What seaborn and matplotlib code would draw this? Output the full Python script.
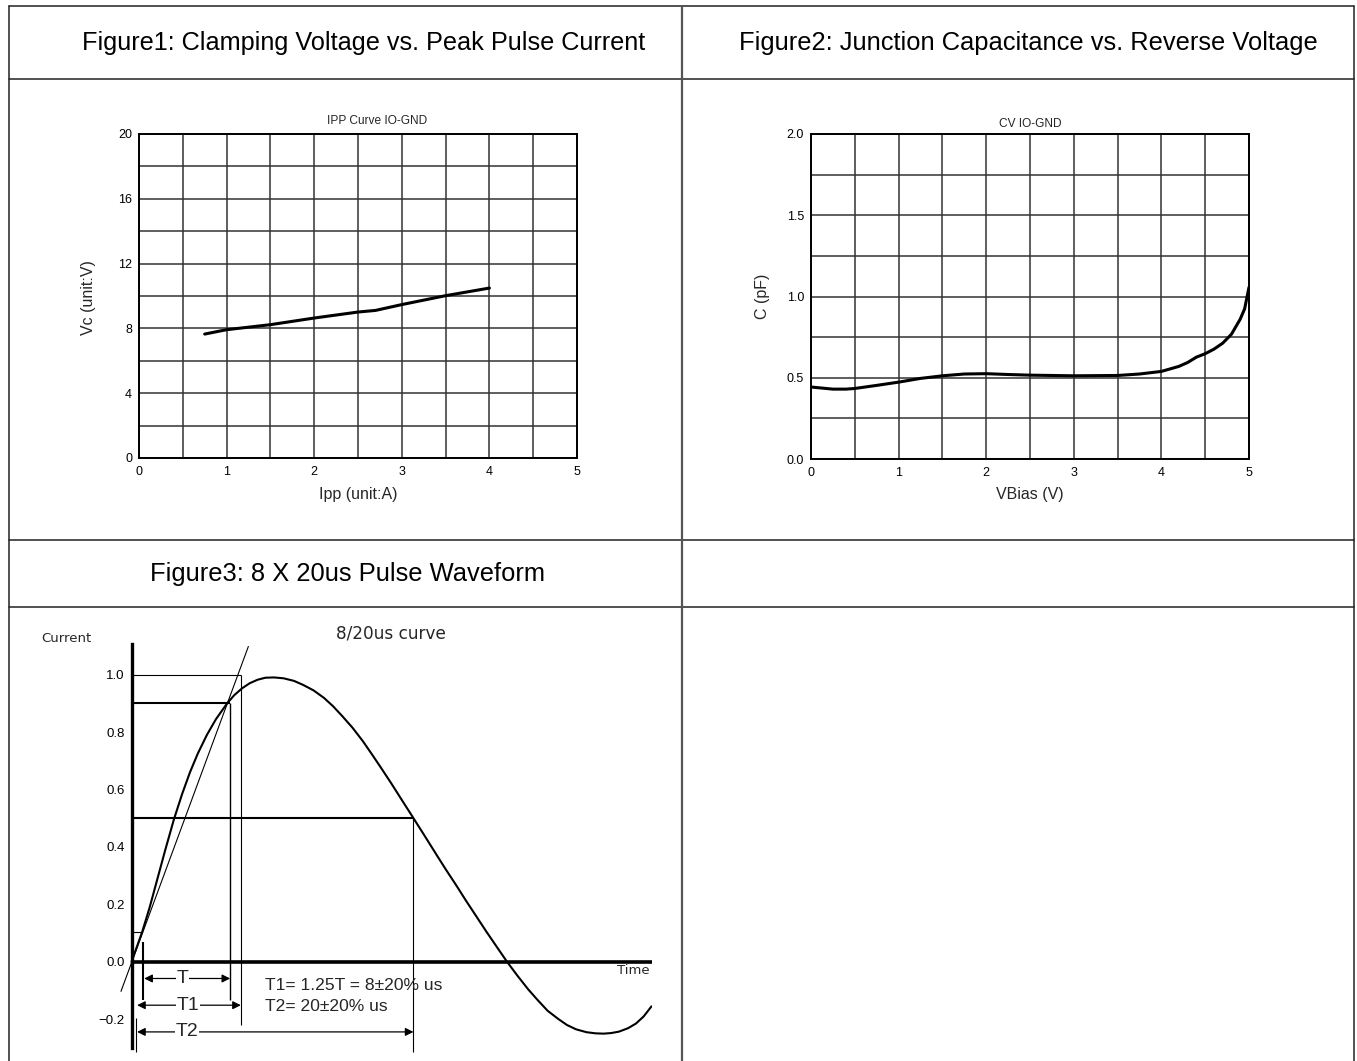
import numpy as np
import pandas as pd
import matplotlib
matplotlib.use('Agg')
import matplotlib.pyplot as plt
from matplotlib.lines import Line2D
import seaborn as sns

# ---------------- data ----------------
# Figure 1: clamping voltage vs peak pulse current
ipp_a = [0.75, 1.0, 1.5, 2.0, 2.5, 2.7, 3.0, 3.5, 4.0]
vc_v = [7.65, 7.92, 8.23, 8.64, 9.01, 9.11, 9.47, 10.02, 10.49]

# Figure 2: junction capacitance vs reverse voltage
vbias_v = [0.0, 0.25, 0.4, 0.5, 0.75, 1.0, 1.25, 1.5, 1.75, 2.0, 2.25, 2.5, 3.0,
           3.5, 3.75, 4.0, 4.2, 4.3, 4.4, 4.5, 4.6, 4.7, 4.8, 4.9, 4.95, 5.0]
cap_pf = [0.443, 0.430, 0.430, 0.434, 0.453, 0.473, 0.496, 0.512, 0.523, 0.525,
          0.520, 0.516, 0.512, 0.514, 0.523, 0.539, 0.570, 0.594, 0.627, 0.648,
          0.676, 0.713, 0.768, 0.861, 0.924, 1.057]

# Figure 3: 8/20us pulse waveform
time_us = [0, 0.82, 1.4, 2.0, 2.6, 3.27, 3.9, 4.5, 5.1, 5.8, 6.5, 7.36, 7.9, 8.5,
           9.1, 9.7, 10.3, 10.96, 11.7, 12.5, 13.2, 14.0, 14.8, 15.5, 16.2, 17.0,
           17.8, 18.5, 19.2, 20.0, 20.8, 21.69, 22.6, 23.5, 24.2, 25.0, 25.7,
           26.5, 27.3, 28.1, 28.89, 29.7, 30.5, 31.2, 32.0, 32.8, 33.5, 34.2,
           35.0, 35.7, 36.32, 36.9, 37.5, 38.2, 38.8, 39.4, 40.0]
current_pu = [0, 0.104, 0.19, 0.29, 0.39, 0.497, 0.585, 0.66, 0.725, 0.79, 0.845,
              0.90, 0.928, 0.952, 0.970, 0.982, 0.989, 0.99, 0.987, 0.978, 0.964,
              0.945, 0.919, 0.89, 0.856, 0.815, 0.768, 0.722, 0.675, 0.62, 0.563,
              0.50, 0.435, 0.37, 0.320, 0.265, 0.215, 0.160, 0.105, 0.052, 0.0,
              -0.049, -0.095, -0.131, -0.17, -0.198, -0.22, -0.235, -0.245, -0.249,
              -0.25, -0.248, -0.243, -0.231, -0.215, -0.19, -0.155]
fig3_yticks = [-0.2, 0.0, 0.2, 0.4, 0.6, 0.8, 1.0]
tangent_t = [-0.82, 9.0]
tangent_i = [-0.104, 1.099]

headers = ["Figure1: Clamping Voltage vs. Peak Pulse Current",
           "Figure2: Junction Capacitance vs. Reverse Voltage",
           "Figure3: 8 X 20us Pulse Waveform"]

# ---------------- setup ----------------
W, H = 1357, 1061
sns.set_theme(style='white')
plt.rcParams['font.family'] = ['Liberation Sans', 'DejaVu Sans']
fig = plt.figure(figsize=(W / 100, H / 100), dpi=100)
fig.patch.set_facecolor('white')


def ax_at(l, t, r, b):
    return fig.add_axes([l / W, 1 - b / H, (r - l) / W, (b - t) / H])


def ftext(x, y, s, **kw):
    fig.text(x / W, 1 - y / H, s, **kw)


def fline(x0, y0, x1, y1, **kw):
    fig.add_artist(Line2D([x0 / W, x1 / W], [1 - y0 / H, 1 - y1 / H], **kw))


# table frame
frame_kw = dict(color='#222222', lw=1.1)
for yy in [6, 79, 540, 607]:
    fline(9, yy, 1354, yy, **frame_kw)
for xx in [9, 1354]:
    fline(xx, 6, xx, 1061, **frame_kw)
fline(682, 6, 682, 1061, color='#555555', lw=1.6)

ftext(364, 43, headers[0], ha='center', va='center', fontsize=18.2, color='black')
ftext(1028, 43, headers[1], ha='center', va='center', fontsize=18.4, color='black')
ftext(347, 574, headers[2], ha='center', va='center', fontsize=18.4, color='black')


def grid_axes(ax, xmaj, xmin, ymaj, ymin, xlim, ylim, ylabels):
    ax.set_xlim(*xlim)
    ax.set_ylim(*ylim)
    ax.set_xticks(xmaj)
    ax.set_xticks(xmin, minor=True)
    ax.set_yticks(ymaj)
    ax.set_yticks(ymin, minor=True)
    ax.set_yticklabels(ylabels)
    ax.grid(True, which='both', color='#333333', lw=1.1)
    ax.tick_params(which='both', length=0, labelsize=9, colors='black')
    ax.tick_params(axis='x', pad=6)
    ax.tick_params(axis='y', pad=5)
    for s in ax.spines.values():
        s.set_visible(True)
        s.set_color('black')
        s.set_linewidth(1.4)
    ax.set_xlabel('')
    ax.set_ylabel('')


# ---------------- Figure 1 ----------------
ax1 = ax_at(139, 134, 577, 458)
df1 = pd.DataFrame({'Ipp': ipp_a, 'Vc': vc_v})
sns.lineplot(data=df1, x='Ipp', y='Vc', ax=ax1, color='black', lw=2.2)
grid_axes(ax1, [0, 1, 2, 3, 4, 5], [0.5, 1.5, 2.5, 3.5, 4.5],
          [0, 4, 8, 12, 16, 20], [2, 6, 10, 14, 18], (0, 5), (0, 20),
          ['0', '4', '8', '12', '16', '20'])
ftext(377, 121, 'IPP Curve IO-GND', ha='center', va='center', fontsize=8.6)
ftext(358, 495, 'Ipp (unit:A)', ha='center', va='center', fontsize=11.5)
ftext(89, 298, 'Vc (unit:V)', ha='center', va='center', fontsize=11.5, rotation=90)

# ---------------- Figure 2 ----------------
ax2 = ax_at(811, 134, 1249, 459)
df2 = pd.DataFrame({'VBias': vbias_v, 'C': cap_pf})
sns.lineplot(data=df2, x='VBias', y='C', ax=ax2, color='black', lw=2.2)
grid_axes(ax2, [0, 1, 2, 3, 4, 5], [0.5, 1.5, 2.5, 3.5, 4.5],
          [0.0, 0.5, 1.0, 1.5, 2.0], [0.25, 0.75, 1.25, 1.75], (0, 5), (0, 2.0),
          ['0.0', '0.5', '1.0', '1.5', '2.0'])
ftext(1030, 124, 'CV IO-GND', ha='center', va='center', fontsize=8.6)
ftext(1030, 495, 'VBias (V)', ha='center', va='center', fontsize=11.5)
ftext(762, 296, 'C (pF)', ha='center', va='center', fontsize=11.5, rotation=90)

# ---------------- Figure 3 ----------------
ax3 = ax_at(105.5, 644.4, 651.5, 1048)
df3 = pd.DataFrame({'Time': time_us, 'Current': current_pu})
sns.lineplot(data=df3, x='Time', y='Current', ax=ax3, color='black', lw=1.5)
ax3.set_xlim(-2, 40)
ax3.set_ylim(-0.30, 1.105)
ax3.set_xlabel('')
ax3.set_ylabel('')
ax3.set_xticks([])
ax3.set_yticks(fig3_yticks)
ax3.set_yticklabels(['\u22120.2', '0.0', '0.2', '0.4', '0.6', '0.8', '1.0'],
                    family='DejaVu Sans')
ax3.tick_params(axis='y', length=0, pad=5, labelsize=9.5, colors='black')
for k in ['top', 'right', 'bottom']:
    ax3.spines[k].set_visible(False)
ax3.spines['left'].set_visible(True)
ax3.spines['left'].set_position(('data', 0))
ax3.spines['left'].set_color('black')
ax3.spines['left'].set_linewidth(2.4)
ax3.patch.set_alpha(0)

k = dict(color='black', clip_on=False, solid_capstyle='butt')
# time axis
ax3.plot([0, 40], [0, 0], lw=2.6, **k)
# tangent line
ax3.plot(tangent_t, tangent_i, lw=0.8, **k)
# reference levels
ax3.plot([0, 8.41], [1.0, 1.0], lw=0.8, **k)
ax3.plot([0, 7.59], [0.9, 0.9], lw=1.5, **k)
ax3.plot([0, 21.69], [0.5, 0.5], lw=1.5, **k)
ax3.plot([0, 0.82], [0.104, 0.104], lw=0.8, **k)
# verticals
ax3.plot([8.41, 8.41], [1.0, -0.22], lw=0.8, **k)
ax3.plot([7.59, 7.59], [0.9, -0.133], lw=1.0, **k)
ax3.plot([21.69, 21.69], [0.5, -0.315], lw=0.8, **k)
ax3.plot([0.88, 0.88], [0.07, -0.133], lw=1.5, **k)
ax3.plot([0.35, 0.35], [-0.195, -0.315], lw=0.8, **k)


# dimension arrows
def dim(x0, x1, y, xt, label):
    ax3.annotate('', xy=(x0, y), xytext=(x1, y),
                 arrowprops=dict(arrowstyle='<|-|>', color='black', lw=0.9,
                                 mutation_scale=12, shrinkA=0, shrinkB=0))
    ax3.text(xt, y, label, ha='center', va='center', fontsize=14,
             family='Liberation Sans',
             bbox=dict(facecolor='white', edgecolor='none', pad=0.5))


dim(0.98, 7.59, -0.058, 3.93, 'T')
dim(0.43, 8.41, -0.151, 4.35, 'T1')
dim(0.43, 21.69, -0.244, 4.25, 'T2')

ax3.text(10.24, -0.081, 'T1= 1.25T = 8\u00b120% us', ha='left', va='center',
         fontsize=12.6, family='Liberation Sans')
ax3.text(10.24, -0.157, 'T2= 20\u00b120% us', ha='left', va='center',
         fontsize=12.6, family='Liberation Sans')

ftext(41, 639, 'Current', ha='left', va='center', fontsize=9.5, family='DejaVu Sans')
ftext(650, 970, 'Time', ha='right', va='center', fontsize=9.5, family='DejaVu Sans')
ftext(391, 634, '8/20us curve', ha='center', va='center', fontsize=12.2,
      family='DejaVu Sans')

fig.savefig('out.png', dpi=100, facecolor='white')
